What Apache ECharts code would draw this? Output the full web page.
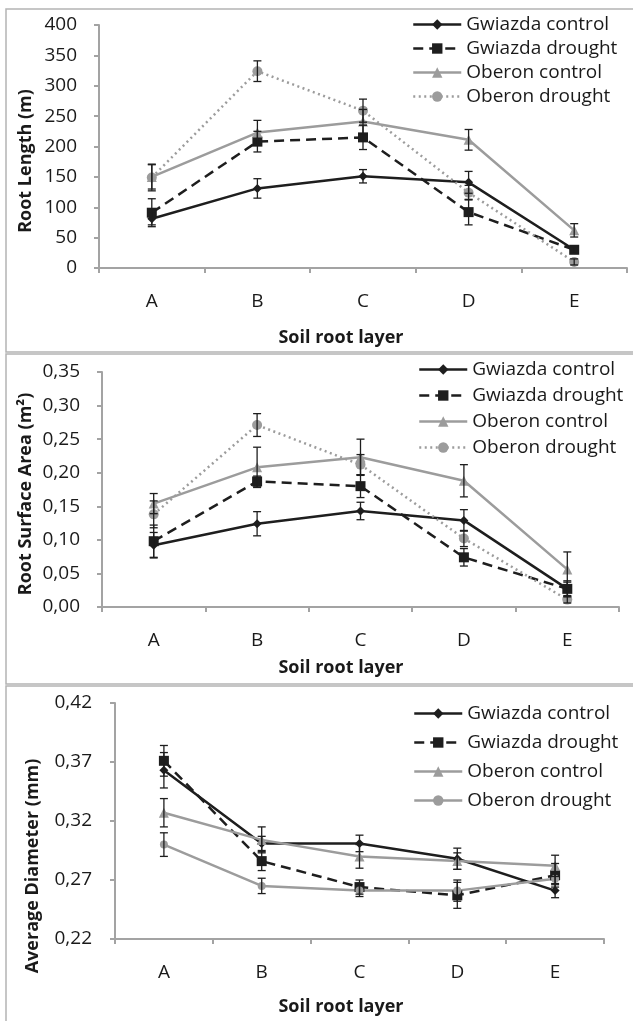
<!DOCTYPE html>
<html><head><meta charset="utf-8">
<script src="https://cdn.jsdelivr.net/npm/echarts@6/dist/echarts.min.js"></script>
<style>html,body{margin:0;padding:0;background:#fff}#c{width:633px;height:1021px}</style>
</head><body><div id="c"></div>
<script>
const categories = ['A', 'B', 'C', 'D', 'E'];
const seriesNames = ['Gwiazda control', 'Gwiazda drought', 'Oberon control', 'Oberon drought'];

// Panel 1: Root Length (m)
const lengthGC = [81, 131, 151, 141, 30];
const lengthGCErr = [10, 16, 11, 18, 5];
const lengthGD = [91, 208, 215, 92, 30];
const lengthGDErr = [23, 17, 20, 21, 6];
const lengthOC = [150, 223, 241, 211, 62];
const lengthOCErr = [20, 20, 20, 17, 11];
const lengthOD = [149, 324, 259, 124, 10];
const lengthODErr = [22, 17, 19, 12, 5];

// Panel 2: Root Surface Area (m2)
const areaGC = [0.092, 0.124, 0.143, 0.129, 0.027];
const areaGCErr = [0.019, 0.018, 0.013, 0.016, 0.010];
const areaGD = [0.098, 0.187, 0.180, 0.074, 0.027];
const areaGDErr = [0.024, 0.008, 0.017, 0.013, 0.012];
const areaOC = [0.154, 0.208, 0.223, 0.188, 0.056];
const areaOCErr = [0.015, 0.030, 0.027, 0.024, 0.026];
const areaOD = [0.138, 0.271, 0.212, 0.102, 0.011];
const areaODErr = [0.020, 0.017, 0.015, 0.012, 0.005];

// Panel 3: Average Diameter (mm)
const diamGC = [0.363, 0.301, 0.301, 0.288, 0.261];
const diamGCErr = [0.015, 0.006, 0.007, 0.009, 0.006];
const diamGD = [0.371, 0.286, 0.264, 0.257, 0.274];
const diamGDErr = [0.013, 0.008, 0.006, 0.011, 0.010];
const diamOC = [0.327, 0.304, 0.290, 0.286, 0.282];
const diamOCErr = [0.012, 0.011, 0.010, 0.007, 0.009];
const diamOD = [0.300, 0.265, 0.261, 0.261, 0.271];
const diamODErr = [0.010, 0.0065, 0.005, 0.009, 0.005];

const yTitles = ['Root Length (m)', 'Root Surface Area (m²)', 'Average Diameter (mm)'];
const xTitle = 'Soil root layer';

const FONT = '"Open Sans", "Liberation Sans", sans-serif';
const BLACK = '#1e1e1e';
const GRAY = '#9c9c9c';
const AXIS = '#a3a3a3';
const TEXT = '#1a1a1a';

const grids = [
  {left: 99, top: 25, width: 528, height: 243},
  {left: 102, top: 372, width: 517, height: 235},
  {left: 115, top: 703, width: 489, height: 236}
];
const yRanges = [
  {min: 0, max: 400, interval: 50, margin: 22, fmt: v => String(Math.round(v))},
  {min: 0, max: 0.35, interval: 0.05, margin: 22, fmt: v => v.toFixed(2).replace('.', ',')},
  {min: 0.22, max: 0.42, interval: 0.05, margin: 23, fmt: v => v.toFixed(2).replace('.', ',')}
];
const panelData = [
  [[lengthGC, lengthGCErr], [lengthGD, lengthGDErr], [lengthOC, lengthOCErr], [lengthOD, lengthODErr]],
  [[areaGC, areaGCErr], [areaGD, areaGDErr], [areaOC, areaOCErr], [areaOD, areaODErr]],
  [[diamGC, diamGCErr], [diamGD, diamGDErr], [diamOC, diamOCErr], [diamOD, diamODErr]]
];

function styleFor(panel, k) {
  if (k === 0) return {color: BLACK, symbol: 'diamond', symbolSize: 9, line: 'solid'};
  if (k === 1) return {color: BLACK, symbol: 'rect', symbolSize: 10, line: [10, 6]};
  if (k === 2) return {color: GRAY, symbol: 'triangle', symbolSize: 10, line: 'solid'};
  if (panel === 2) return {color: GRAY, symbol: 'circle', symbolSize: 8, line: 'solid'};
  return {color: GRAY, symbol: 'circle', symbolSize: 10, line: [2, 3.5]};
}

function errRender(params, api) {
  const x = api.value(0);
  const p1 = api.coord([x, api.value(1)]);
  const p2 = api.coord([x, api.value(2)]);
  const w = 4;
  const st = {stroke: BLACK, lineWidth: 1.3, fill: null};
  return {type: 'group', children: [
    {type: 'line', shape: {x1: p1[0], y1: p1[1], x2: p2[0], y2: p2[1]}, style: st},
    {type: 'line', shape: {x1: p1[0] - w, y1: p1[1], x2: p1[0] + w, y2: p1[1]}, style: st},
    {type: 'line', shape: {x1: p2[0] - w, y1: p2[1], x2: p2[0] + w, y2: p2[1]}, style: st}
  ]};
}

const series = [];
const legends = [];
const legendPos = [
  {left: 412, top: 15, gap: 5},
  {left: 418, top: 360, gap: 7},
  {left: 413, top: 704, gap: 10}
];
panelData.forEach((pd, p) => {
  pd.forEach(([vals, errs], k) => {
    const s = styleFor(p, k);
    series.push({
      type: 'custom', name: 'err' + p + k, xAxisIndex: p, yAxisIndex: p,
      renderItem: errRender, z: 3, silent: true,
      encode: {x: 0, y: [1, 2]},
      data: categories.map((c, i) => [i, vals[i] - errs[i], vals[i] + errs[i]])
    });
    series.push({
      type: 'line', name: seriesNames[k], xAxisIndex: p, yAxisIndex: p,
      data: vals, symbol: s.symbol, symbolSize: s.symbolSize, z: 2,
      lineStyle: {color: s.color, width: 2.5, type: s.line},
      itemStyle: {color: s.color, borderWidth: 0}
    });
  });
  legends.push({
    orient: 'vertical', left: legendPos[p].left, top: legendPos[p].top, padding: 0,
    itemWidth: 48, itemHeight: 13, itemGap: legendPos[p].gap,
    selectedMode: false,
    textStyle: {fontFamily: FONT, fontSize: 19, color: TEXT, lineHeight: 19, padding: 0},
    data: seriesNames.map((n, k) => {
      const s = styleFor(p, k);
      return {name: n, lineStyle: {type: s.line, color: s.color, width: 2.5}, itemStyle: {color: s.color}};
    })
  });
});

const graphic = [
  {type: 'rect', shape: {x: 6, y: 9, width: 640, height: 343}, style: {fill: null, stroke: '#b4b4b4', lineWidth: 1.5}, silent: true},
  {type: 'rect', shape: {x: 6, y: 354, width: 640, height: 330}, style: {fill: null, stroke: '#b4b4b4', lineWidth: 1.5}, silent: true},
  {type: 'rect', shape: {x: 6, y: 686, width: 640, height: 345}, style: {fill: null, stroke: '#b4b4b4', lineWidth: 1.5}, silent: true}
];
const yTitlePos = [[26, 161], [26, 494], [33, 866]];
const xTitleY = [338, 668, 1007];
yTitles.forEach((t, p) => {
  graphic.push({type: 'text', x: yTitlePos[p][0], y: yTitlePos[p][1], rotation: Math.PI / 2, silent: true,
    style: {text: t, font: 'bold 18px ' + FONT, fill: TEXT, align: 'center', verticalAlign: 'middle'}});
  graphic.push({type: 'text', x: 341, y: xTitleY[p], silent: true,
    style: {text: xTitle, font: 'bold 18px ' + FONT, fill: TEXT, align: 'center', verticalAlign: 'middle'}});
});

const option = {
  animation: false,
  backgroundColor: '#ffffff',
  grid: grids,
  xAxis: grids.map((g, p) => ({
    type: 'category', gridIndex: p, data: categories, boundaryGap: true,
    axisLine: {lineStyle: {color: AXIS, width: 2}},
    axisTick: {show: true, length: 5, lineStyle: {color: AXIS, width: 2}},
    axisLabel: {fontFamily: FONT, fontSize: 19, color: TEXT, margin: 24},
    splitLine: {show: false}
  })),
  yAxis: grids.map((g, p) => ({
    type: 'value', gridIndex: p, min: yRanges[p].min, max: yRanges[p].max, interval: yRanges[p].interval,
    axisLine: {show: true, lineStyle: {color: AXIS, width: 2}},
    axisTick: {show: true, length: 5, lineStyle: {color: AXIS, width: 2}},
    axisLabel: {fontFamily: FONT, fontSize: 19, color: TEXT, margin: yRanges[p].margin, formatter: yRanges[p].fmt},
    splitLine: {show: false}
  })),
  legend: legends,
  series: series,
  graphic: graphic
};
const chart = echarts.init(document.getElementById('c'), null, {renderer: 'canvas'});
chart.setOption(option);
</script>
</body></html>
